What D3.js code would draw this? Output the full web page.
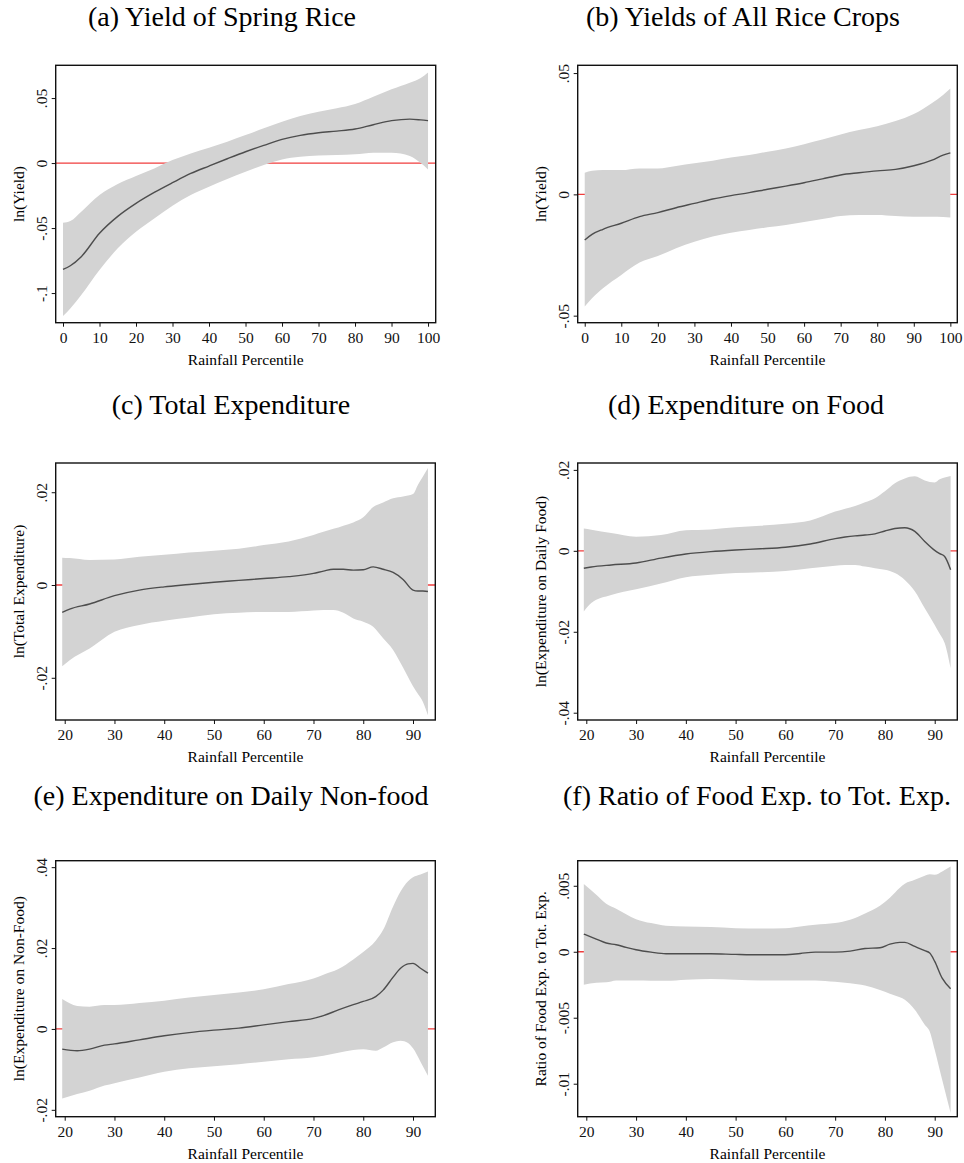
<!DOCTYPE html>
<html>
<head>
<meta charset="utf-8">
<script src="https://cdn.jsdelivr.net/npm/d3@7"></script>
<style>
  body { margin: 0; background: #fff; }
  svg { display: block; font-family: "Liberation Serif", "Times New Roman", serif; }
</style>
</head>
<body>
<script>

// (a) yield of spring rice
var aX   = [0, 2, 5, 10, 15, 20, 25, 30, 35, 40, 45, 50, 55, 60, 65, 70, 75, 80, 85, 90, 95, 98, 100];
var aFit = [-0.0818, -0.079, -0.072, -0.054, -0.041, -0.031, -0.0226, -0.0151, -0.008, -0.0023, 0.0033, 0.0087, 0.0136, 0.0182, 0.0213, 0.0233, 0.0246, 0.0262, 0.0295, 0.0326, 0.0338, 0.0332, 0.0326];
var aHi  = [-0.0459, -0.0446, -0.0374, -0.0246, -0.0162, -0.01, -0.0041, 0.0023, 0.0074, 0.0118, 0.0164, 0.0215, 0.0267, 0.0318, 0.0362, 0.0395, 0.0421, 0.0454, 0.051, 0.0567, 0.0618, 0.0655, 0.0697];
var aLo  = [-0.1177, -0.1118, -0.1015, -0.0823, -0.0656, -0.0528, -0.0426, -0.0328, -0.0246, -0.0182, -0.0123, -0.0067, -0.0015, 0.0028, 0.0049, 0.0059, 0.0062, 0.0067, 0.0079, 0.0079, 0.0054, 0.0, -0.0049];

// (b) yields of all rice crops
var bX   = [0, 2, 5, 10, 15, 20, 25, 30, 35, 40, 45, 50, 55, 60, 65, 70, 75, 80, 85, 90, 95, 98, 100];
var bFit = [-0.0188, -0.0165, -0.0144, -0.0119, -0.0092, -0.0075, -0.0055, -0.0037, -0.0019, -0.0005, 0.0007, 0.0021, 0.0034, 0.0048, 0.0064, 0.008, 0.0089, 0.0097, 0.0103, 0.0118, 0.0141, 0.0162, 0.0171];
var bHi  = [0.0089, 0.0097, 0.01, 0.01, 0.0107, 0.0107, 0.0117, 0.0128, 0.0139, 0.0152, 0.0162, 0.0176, 0.0189, 0.0207, 0.0226, 0.0247, 0.0265, 0.0281, 0.0302, 0.0331, 0.0377, 0.041, 0.0436];
var bLo  = [-0.0462, -0.0428, -0.0387, -0.0332, -0.0281, -0.0254, -0.0222, -0.0195, -0.0174, -0.0158, -0.0147, -0.0136, -0.0126, -0.0114, -0.0102, -0.0089, -0.0085, -0.0085, -0.0089, -0.0092, -0.0092, -0.0093, -0.0095];

// (c) total expenditure
var cX   = [19.5, 21, 25, 30, 35, 40, 45, 50, 55, 60, 65, 70, 72, 74, 76, 78, 80, 82, 84, 86, 88, 90, 91, 92, 93];
var cFit = [-0.0059, -0.0052, -0.0041, -0.0023, -0.0011, -0.0004, 0.0001, 0.0006, 0.001, 0.0014, 0.0018, 0.0025, 0.003, 0.0034, 0.0034, 0.0032, 0.0033, 0.0039, 0.0034, 0.0027, 0.0012, -0.0011, -0.0013, -0.0013, -0.0014];
var cHi  = [0.0059, 0.0058, 0.0054, 0.0055, 0.0061, 0.0065, 0.007, 0.0074, 0.0078, 0.0086, 0.0094, 0.0108, 0.0115, 0.0121, 0.0128, 0.0135, 0.0146, 0.0168, 0.0178, 0.0187, 0.0191, 0.0196, 0.0216, 0.0234, 0.0252];
var cLo  = [-0.0175, -0.0162, -0.0137, -0.0101, -0.0086, -0.0077, -0.007, -0.0063, -0.006, -0.0058, -0.0058, -0.0055, -0.0054, -0.0054, -0.006, -0.0072, -0.0079, -0.009, -0.0115, -0.014, -0.0178, -0.0218, -0.0235, -0.0252, -0.0281];

// (d) expenditure on food
var dX   = [19.5, 21, 25, 30, 35, 40, 45, 50, 55, 60, 65, 70, 72, 74, 76, 78, 80, 82, 84, 86, 88, 90, 91, 92, 93.2];
var dFit = [-0.0043, -0.004, -0.0035, -0.003, -0.0018, -0.0008, -0.0002, 0.0002, 0.0005, 0.0009, 0.0017, 0.003, 0.0034, 0.0037, 0.0039, 0.0042, 0.0049, 0.0055, 0.0057, 0.0048, 0.0023, 0.0001, -0.0007, -0.0014, -0.0047];
var dHi  = [0.0055, 0.0052, 0.0044, 0.0035, 0.0039, 0.0051, 0.0053, 0.0058, 0.0062, 0.0067, 0.0075, 0.0097, 0.0104, 0.0111, 0.012, 0.013, 0.0147, 0.0167, 0.0179, 0.0184, 0.0174, 0.0169, 0.0177, 0.0181, 0.0185];
var dLo  = [-0.015, -0.0129, -0.0109, -0.0095, -0.0081, -0.0065, -0.0059, -0.0055, -0.0053, -0.005, -0.0043, -0.0037, -0.0035, -0.0035, -0.0039, -0.0043, -0.0047, -0.0055, -0.0072, -0.01, -0.0142, -0.0183, -0.0205, -0.0228, -0.029];

// (e) expenditure on daily non-food
var eX   = [19.5, 22.5, 25, 28, 30, 35, 40, 45, 50, 55, 60, 65, 70, 72, 75, 78, 80, 82.5, 84, 86, 87.5, 89, 90, 91.5, 93];
var eFit = [-0.005, -0.0054, -0.005, -0.004, -0.0037, -0.0027, -0.0017, -0.0009, -0.0003, 0.0002, 0.001, 0.0018, 0.0026, 0.0033, 0.0047, 0.006, 0.0068, 0.008, 0.0096, 0.0128, 0.015, 0.0161, 0.0162, 0.015, 0.0138];
var eHi  = [0.0074, 0.0057, 0.0055, 0.0059, 0.0059, 0.0064, 0.007, 0.0078, 0.0084, 0.009, 0.0098, 0.0111, 0.0125, 0.0134, 0.0148, 0.0172, 0.019, 0.0218, 0.0245, 0.0303, 0.034, 0.0365, 0.0375, 0.0382, 0.0389];
var eLo  = [-0.0172, -0.0161, -0.0153, -0.014, -0.0134, -0.012, -0.0106, -0.0097, -0.0092, -0.0087, -0.0081, -0.0075, -0.007, -0.0066, -0.0059, -0.0052, -0.005, -0.0054, -0.0046, -0.0033, -0.0029, -0.0035, -0.0048, -0.0081, -0.0116];

// (f) ratio of food exp. to tot. exp.
var fX   = [19.5, 22, 24, 26, 28, 30, 33, 36, 40, 45, 50, 55, 60, 63, 66, 70, 73, 76, 79, 81, 83, 84, 86, 88, 89, 90, 91.5, 93.2];
var fFit = [0.00134, 0.00096, 0.00066, 0.00053, 0.00033, 0.00015, -0.00003, -0.00015, -0.00015, -0.00015, -0.0002, -0.00023, -0.00023, -0.00013, -0.00003, -0.00003, 0.00005, 0.00025, 0.0003, 0.00058, 0.00071, 0.00071, 0.0004, 0.00008, -0.0001, -0.00073, -0.002, -0.0028];
var fHi  = [0.00513, 0.00432, 0.00364, 0.00326, 0.00285, 0.00247, 0.00217, 0.00197, 0.00192, 0.00187, 0.00179, 0.00177, 0.00179, 0.00192, 0.00205, 0.00217, 0.00242, 0.0029, 0.00348, 0.0041, 0.00485, 0.00515, 0.00545, 0.00576, 0.00588, 0.00583, 0.00609, 0.00646];
var fLo  = [-0.0025, -0.00235, -0.00232, -0.00217, -0.00217, -0.00217, -0.00219, -0.0022, -0.00212, -0.00207, -0.00212, -0.00217, -0.00217, -0.00217, -0.00217, -0.00227, -0.00238, -0.00255, -0.0029, -0.00318, -0.00345, -0.00364, -0.00439, -0.00553, -0.00604, -0.00742, -0.0097, -0.01222];

// titles, axis titles and ticks
var titles = ['(a) Yield of Spring Rice', '(b) Yields of All Rice Crops', '(c) Total Expenditure',
              '(d) Expenditure on Food', '(e) Expenditure on Daily Non-food', '(f) Ratio of Food Exp. to Tot. Exp.'];
var yTitles = ['ln(Yield)', 'ln(Yield)', 'ln(Total Expenditure)', 'ln(Expenditure on Daily Food)',
               'ln(Expenditure on Non-Food)', 'Ratio of Food Exp. to Tot. Exp.'];
var xTitle = 'Rainfall Percentile';
var xTicksFull = [0, 10, 20, 30, 40, 50, 60, 70, 80, 90, 100];
var xTicksPart = [20, 30, 40, 50, 60, 70, 80, 90];
var yTicksA = [-0.1, -0.05, 0, 0.05];
var yTicksB = [-0.05, 0, 0.05];
var yTicksC = [-0.02, 0, 0.02];
var yTicksD = [-0.04, -0.02, 0, 0.02];
var yTicksE = [-0.02, 0, 0.02, 0.04];
var yTicksF = [-0.01, -0.005, 0, 0.005];

var W = 964, H = 1163;

// plot boxes in page pixels and the value range each box covers
var panels = [
    { x: aX, fit: aFit, hi: aHi, lo: aLo, xt: xTicksFull, yt: yTicksA, box: [55.7, 65.3, 435.7, 322.7], xd: [-2.0, 102.1], yd: [-0.1228, 0.0752], tx: 222, ty: 26 },
    { x: bX, fit: bFit, hi: bHi, lo: bLo, xt: xTicksFull, yt: yTicksB, box: [577.7, 65.3, 957.3, 322.7], xd: [-1.92, 101.9], yd: [-0.0529, 0.0532], tx: 743, ty: 26 },
    { x: cX, fit: cFit, hi: cHi, lo: cLo, xt: xTicksPart, yt: yTicksC, box: [55.7, 463, 435.3, 720], xd: [18.19, 94.48], yd: [-0.0291, 0.0263], tx: 231, ty: 414 },
    { x: dX, fit: dFit, hi: dHi, lo: dLo, xt: xTicksPart, yt: yTicksD, box: [577.7, 463, 957.3, 720], xd: [18.27, 94.54], yd: [-0.0418, 0.0217], tx: 746, ty: 414 },
    { x: eX, fit: eFit, hi: eHi, lo: eLo, xt: xTicksPart, yt: yTicksE, box: [55.7, 860.7, 435.3, 1116.7], xd: [18.19, 94.48], yd: [-0.0217, 0.0416], tx: 231, ty: 805 },
    { x: fX, fit: fFit, hi: fHi, lo: fLo, xt: xTicksPart, yt: yTicksF, box: [577.7, 860.7, 957.3, 1116.7], xd: [18.27, 94.54], yd: [-0.0125, 0.0069], tx: 757, ty: 805 }
];

// stata style numbers: drop the leading zero
function fmt(v) {
    return v === 0 ? '0' : String(v).replace('0.', '.');
}

var svg = d3.select('body').append('svg')
    .attr('width', W)
    .attr('height', H);

svg.append('rect').attr('width', W).attr('height', H).attr('fill', '#fff');

panels.forEach(function (p, i) {
    var x0 = p.box[0], y0 = p.box[1], x1 = p.box[2], y1 = p.box[3];
    var x = d3.scaleLinear().domain(p.xd).range([x0, x1]);
    var y = d3.scaleLinear().domain(p.yd).range([y1, y0]);

    var rows = p.x.map(function (v, k) {
        return { x: v, fit: p.fit[k], hi: p.hi[k], lo: p.lo[k] };
    });

    svg.append('text')
        .attr('x', p.tx)
        .attr('y', p.ty)
        .attr('text-anchor', 'middle')
        .attr('font-size', '28px')
        .text(titles[i]);

    // zero reference line sits under the band
    svg.append('line')
        .attr('x1', x0).attr('x2', x1)
        .attr('y1', y(0)).attr('y2', y(0))
        .attr('stroke', '#f03c3c')
        .attr('stroke-width', 1.3);

    var band = d3.area()
        .curve(d3.curveMonotoneX)
        .x(function (d) { return x(d.x); })
        .y0(function (d) { return y(d.lo); })
        .y1(function (d) { return y(d.hi); });

    svg.append('path')
        .datum(rows)
        .attr('d', band)
        .attr('fill', '#d3d3d3');

    var line = d3.line()
        .curve(d3.curveMonotoneX)
        .x(function (d) { return x(d.x); })
        .y(function (d) { return y(d.fit); });

    svg.append('path')
        .datum(rows)
        .attr('d', line)
        .attr('fill', 'none')
        .attr('stroke', '#4d4d4d')
        .attr('stroke-width', 1.4);

    // frame
    svg.append('rect')
        .attr('x', x0).attr('y', y0)
        .attr('width', x1 - x0).attr('height', y1 - y0)
        .attr('fill', 'none')
        .attr('stroke', '#111')
        .attr('stroke-width', 1.4);

    var xAxis = d3.axisBottom(x)
        .tickValues(p.xt)
        .tickSize(4)
        .tickSizeOuter(0)
        .tickPadding(5)
        .tickFormat(fmt);

    var gx = svg.append('g')
        .attr('transform', 'translate(0,' + y1 + ')')
        .call(xAxis);
    gx.select('.domain').remove();
    gx.selectAll('text')
        .attr('font-family', '"Liberation Serif", "Times New Roman", serif')
        .attr('font-size', '15.5px')
        .attr('fill', '#111');
    gx.selectAll('line').attr('stroke', '#111');

    var yAxis = d3.axisLeft(y)
        .tickValues(p.yt)
        .tickSize(4)
        .tickSizeOuter(0)
        .tickFormat(fmt);

    var gy = svg.append('g')
        .attr('transform', 'translate(' + x0 + ',0)')
        .call(yAxis);
    gy.select('.domain').remove();
    gy.selectAll('line').attr('stroke', '#111');
    gy.selectAll('text')
        .attr('x', 0)
        .attr('y', -9)
        .attr('dy', 0)
        .attr('transform', 'rotate(-90)')
        .attr('text-anchor', 'middle')
        .attr('font-family', '"Liberation Serif", "Times New Roman", serif')
        .attr('font-size', '15.5px')
        .attr('fill', '#111');

    svg.append('text')
        .attr('x', (x0 + x1) / 2)
        .attr('y', y1 + 42)
        .attr('text-anchor', 'middle')
        .attr('font-size', '15.5px')
        .text(xTitle);

    svg.append('text')
        .attr('transform', 'translate(' + (x0 - 32) + ',' + ((y0 + y1) / 2) + ') rotate(-90)')
        .attr('text-anchor', 'middle')
        .attr('font-size', '15.5px')
        .text(yTitles[i]);
});

</script>
</body>
</html>
